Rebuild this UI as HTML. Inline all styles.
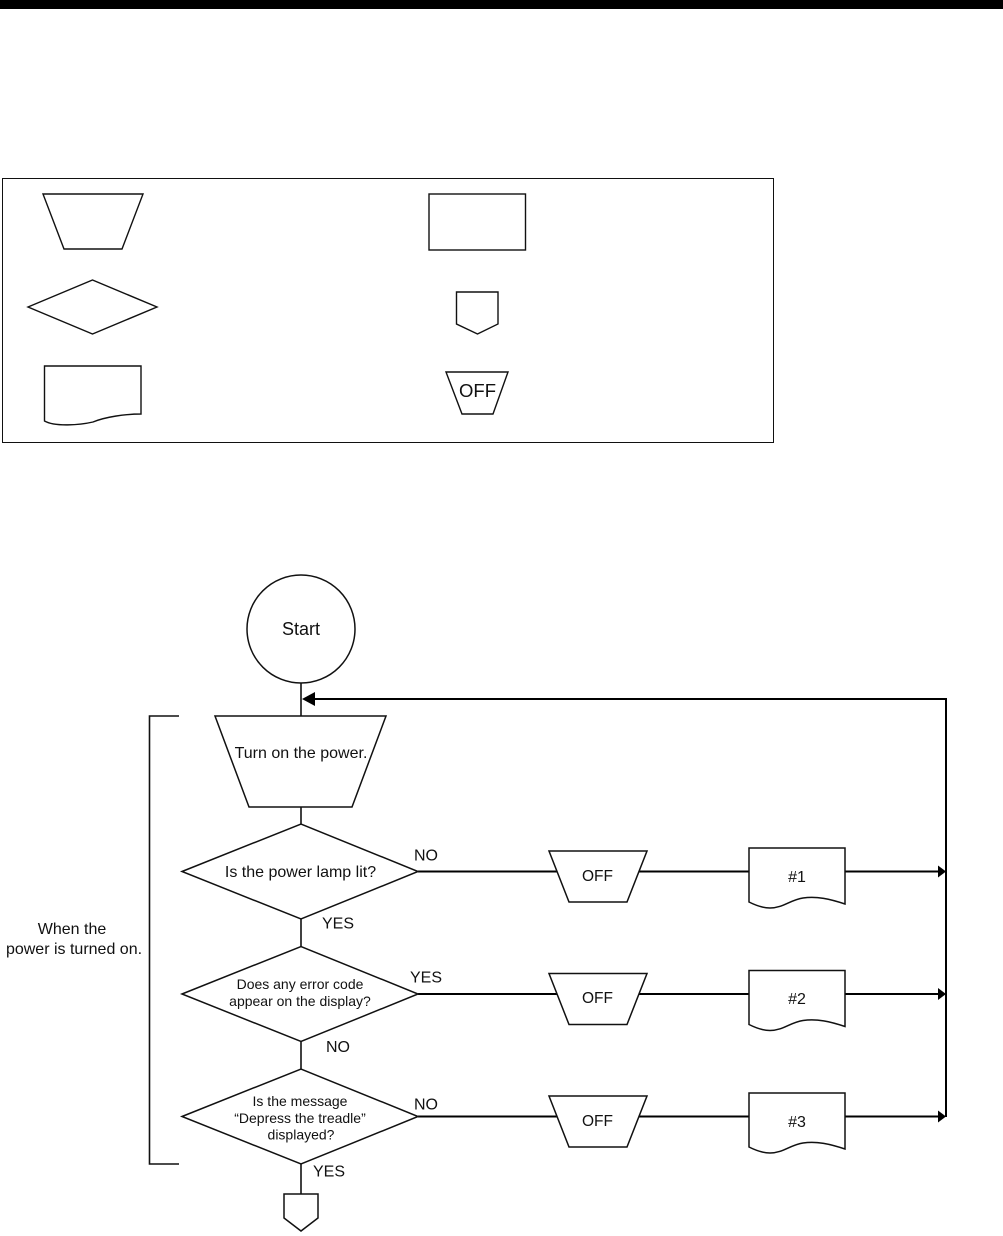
<!DOCTYPE html>
<html><head><meta charset="utf-8"><style>
html,body{margin:0;padding:0;background:#fff}
svg{display:block}
text{font-family:"Liberation Sans",sans-serif;fill:#111}
</style></head><body>
<svg width="1003" height="1236" viewBox="0 0 1003 1236" xmlns="http://www.w3.org/2000/svg">
<defs>
<path id="doc" d="M749 848H845V904C830 899 817 896 803 898C790 900 783 908 770 908C762 908 755 905 749 902Z" fill="#fff" stroke="#111" stroke-width="1.500"/>
<polygon id="off" points="549,851 647,851 627,902 569,902" fill="#fff" stroke="#111" stroke-width="1.500"/>
<polygon id="dm" points="182,0 301,-47.500 418,0 301,47.500" fill="#fff" stroke="#111" stroke-width="1.500"/>
<polygon id="ah" points="938,-6 946,0 938,6" fill="#000"/>
</defs>
<rect width="1003" height="1236" fill="#fff"/>
<rect width="1003" height="9" fill="#000"/>

<rect x="2.500" y="178.500" width="771" height="264" fill="#fff" stroke="#111" stroke-width="1"/>
<g fill="#fff" stroke="#111" stroke-width="1.400">
<polygon points="43,194 143,194 122,249 64,249"/>
<polygon points="28,307 92.500,280 157,307 92.500,334"/>
<path d="M44.500 366H141V414C125 414 105 417 93 422C80 425 55 427 44.500 421Z"/>
<rect x="429" y="194" width="96.500" height="56"/>
<polygon points="456.500,292 498,292 498,324 477.500,334 456.500,324"/>
<polygon points="446,372 508,372 493,414 462,414"/>
</g>
<text x="477.500" y="397" font-size="18.500" text-anchor="middle">OFF</text>

<g fill="none" stroke="#111" stroke-width="1.600">
<line x1="301" y1="683" x2="301" y2="716"/>
<line x1="301" y1="807" x2="301" y2="824"/>
<line x1="301" y1="919" x2="301" y2="947"/>
<line x1="301" y1="1041" x2="301" y2="1069"/>
<line x1="301" y1="1163" x2="301" y2="1194"/>
<path d="M179 716H149.500V1164H179"/>
</g>
<g fill="none" stroke="#000" stroke-width="2">
<path d="M315 699H946V1117"/>
<path d="M418 871.500H938M418 994H938M418 1116.500H938"/>
</g>
<polygon points="302,699 315,692 315,706" fill="#000"/>
<use href="#ah" y="871.500"/><use href="#ah" y="994"/><use href="#ah" y="1116.500"/>

<circle cx="301" cy="629" r="54" fill="#fff" stroke="#111" stroke-width="1.500"/>
<polygon points="215,716 386,716 352,807 249,807" fill="#fff" stroke="#111" stroke-width="1.500"/>
<use href="#dm" y="871.500"/><use href="#dm" y="994"/><use href="#dm" y="1116.500"/>
<polygon points="284,1194 318,1194 318,1218 301,1231 284,1218" fill="#fff" stroke="#111" stroke-width="1.500"/>

<use href="#off"/><use href="#off" y="122.500"/><use href="#off" y="245"/>
<use href="#doc"/><use href="#doc" y="122.500"/><use href="#doc" y="245"/>

<text x="301" y="635" font-size="18" text-anchor="middle">Start</text>
<g font-size="16" text-anchor="middle">
<text x="301" y="758">Turn on the power.</text>
<text x="300.500" y="877">Is the power lamp lit?</text>
<text x="72" y="934">When the</text>
<text x="74" y="954">power is turned on.</text>
<text x="797" y="882">#1</text>
<text x="797" y="1004">#2</text>
<text x="797" y="1127">#3</text>
</g>
<g font-size="15.500" text-anchor="middle">
<text x="597.500" y="881">OFF</text>
<text x="597.500" y="1003">OFF</text>
<text x="597.500" y="1126">OFF</text>
</g>
<g font-size="14" text-anchor="middle">
<text x="300" y="989">Does any error code</text>
<text x="300" y="1006">appear on the display?</text>
<text x="300" y="1106">Is the message</text>
<text x="300" y="1123">“Depress the treadle”</text>
<text x="301" y="1139.500">displayed?</text>
</g>
<g font-size="16">
<text x="414" y="860.500">NO</text>
<text x="322" y="928.500">YES</text>
<text x="410" y="982.500">YES</text>
<text x="326" y="1052">NO</text>
<text x="414" y="1109.500">NO</text>
<text x="313" y="1176.500">YES</text>
</g>
</svg>
</body></html>
